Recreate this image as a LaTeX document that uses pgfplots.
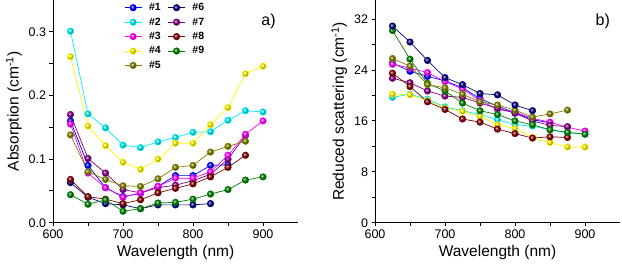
\documentclass[border=0pt]{standalone}
\usepackage{pgfplots}
\pgfplotsset{compat=1.18}
\usepackage{fontspec}
\setmainfont{Liberation Sans}
\definecolor{c1}{RGB}{0,0,255}
\definecolor{c2}{RGB}{0,240,250}
\definecolor{c3}{RGB}{255,0,255}
\definecolor{c4}{RGB}{255,245,0}
\definecolor{c5}{RGB}{128,128,0}
\definecolor{c6}{RGB}{0,0,128}
\definecolor{c7}{RGB}{128,0,128}
\definecolor{c8}{RGB}{128,0,0}
\definecolor{c9}{RGB}{0,128,0}
\pgfplotsset{
  myaxis/.style={
    scale only axis, width=245pt, height=222.7pt,
    axis x line*=bottom, axis y line*=left,
    axis line style={line width=0.9pt, black},
    tick align=outside, tick style={line width=0.9pt, black},
    major tick length=3.5pt, minor tick length=3.5pt,
    minor x tick num=1, minor y tick num=1,
    xmin=600, xmax=950, xtick={600,700,800,900},
    ymin=0,
    /pgf/number format/assume math mode=true,
    tick label style={font=\fontsize{12.5}{14}\selectfont},
    label style={font=\fontsize{15.5}{18}\selectfont},
    xlabel={Wavelength (nm)},
    clip=false,
    every axis plot/.append style={line width=0.7pt, mark size=3.2pt},
  },
  s1/.style={color=c1, mark=ball, mark options={ball color=c1}},
  s2/.style={color=c2, mark=ball, mark options={ball color=c2}},
  s3/.style={color=c3, mark=ball, mark options={ball color=c3}},
  s4/.style={color=c4, mark=ball, mark options={ball color=c4}},
  s5/.style={color=c5, mark=ball, mark options={ball color=c5}},
  s6/.style={color=c6, mark=ball, mark options={ball color=c6}},
  s7/.style={color=c7, mark=ball, mark options={ball color=c7}},
  s8/.style={color=c8, mark=ball, mark options={ball color=c8}},
  s9/.style={color=c9, mark=ball, mark options={ball color=c9}},
}
\begin{document}
\begin{tikzpicture}
\useasboundingbox (-53pt,-51.3pt) rectangle (569pt,222.7pt);
% ---------- a) absorption ----------
\begin{axis}[myaxis, at={(0pt,0pt)}, anchor=south west,
  ymax=0.35, ytick={0,0.1,0.2,0.3},
  yticklabel style={/pgf/number format/fixed, /pgf/number format/fixed zerofill, /pgf/number format/precision=1},
  ylabel={Absorption (cm\textsuperscript{-1})},
  legend columns=2,
  legend style={at={(0.29,0.995)}, anchor=north west, draw=none, fill=none,
    font=\fontsize{10.5}{11}\selectfont\bfseries, row sep=1.6pt, column sep=5pt,
    inner sep=0pt},
]
\addplot[s1] coordinates {(625,0.160)(650,0.090)(675,0.055)(700,0.041)(725,0.046)(750,0.057)(775,0.074)(800,0.074)(825,0.090)(850,0.091)};
\addlegendentry{\#1}
\addplot[s6] coordinates {(625,0.063)(650,0.040)(675,0.030)(700,0.028)(725,0.022)(750,0.028)(775,0.028)(800,0.028)(825,0.030)};
\addlegendentry{\#6}
\addplot[s2] coordinates {(625,0.301)(650,0.171)(675,0.149)(700,0.122)(725,0.118)(750,0.127)(775,0.134)(800,0.142)(825,0.143)(850,0.161)(875,0.176)(900,0.174)};
\addlegendentry{\#2}
\addplot[s7] coordinates {(625,0.170)(650,0.101)(675,0.078)(700,0.052)(725,0.047)(750,0.055)(775,0.059)(800,0.066)(825,0.076)(850,0.100)(875,0.137)};
\addlegendentry{\#7}
\addplot[s3] coordinates {(625,0.155)(650,0.078)(675,0.055)(700,0.040)(725,0.047)(750,0.057)(775,0.070)(800,0.070)(825,0.080)(850,0.106)(875,0.139)(900,0.160)};
\addlegendentry{\#3}
\addplot[s8] coordinates {(625,0.068)(650,0.041)(675,0.037)(700,0.030)(725,0.036)(750,0.047)(775,0.054)(800,0.061)(825,0.072)(850,0.087)(875,0.106)};
\addlegendentry{\#8}
\addplot[s4] coordinates {(625,0.261)(650,0.152)(675,0.121)(700,0.095)(725,0.084)(750,0.100)(775,0.125)(800,0.125)(825,0.154)(850,0.181)(875,0.234)(900,0.246)};
\addlegendentry{\#4}
\addplot[s9] coordinates {(625,0.044)(650,0.029)(675,0.036)(700,0.018)(725,0.022)(750,0.031)(775,0.032)(800,0.037)(825,0.045)(850,0.052)(875,0.067)(900,0.072)};
\addlegendentry{\#9}
\addplot[s5] coordinates {(625,0.138)(650,0.080)(675,0.068)(700,0.058)(725,0.057)(750,0.069)(775,0.087)(800,0.090)(825,0.111)(850,0.120)(875,0.128)};
\addlegendentry{\#5}
\node[font=\fontsize{16}{18}\selectfont, anchor=center] at (rel axis cs:0.88,0.905) {a)};
\end{axis}
% ---------- b) reduced scattering ----------
\begin{axis}[myaxis, at={(322pt,0pt)}, anchor=south west,
  ymax=35, ytick={0,8,16,24,32},
  ylabel={Reduced scattering (cm\textsuperscript{-1})},
]
\addplot[s1] coordinates {(625,25.1)(650,23.8)(675,23.0)(700,22.3)(725,21.2)(750,19.5)(775,18.3)(800,17.3)(825,16.2)(850,15.7)};
\addplot[s2] coordinates {(625,19.7)(650,20.2)(675,19.4)(700,18.2)(725,17.6)(750,17.0)(775,16.2)(800,15.4)(825,15.2)(850,14.6)(875,14.1)(900,14.0)};
\addplot[s3] coordinates {(625,24.9)(650,24.3)(675,23.6)(700,22.2)(725,21.0)(750,19.2)(775,17.8)(800,17.4)(825,16.4)(850,15.8)(875,15.0)(900,14.4)};
\addplot[s4] coordinates {(625,20.2)(650,20.1)(675,19.2)(700,18.0)(725,17.5)(750,16.7)(775,15.4)(800,14.8)(825,13.4)(850,12.6)(875,11.9)(900,11.9)};
\addplot[s7] coordinates {(625,22.7)(650,22.0)(675,20.7)(700,19.9)(725,19.7)(750,18.8)(775,18.0)(800,17.2)(825,16.0)(850,15.3)(875,15.1)};
\addplot[s8] coordinates {(625,23.5)(650,21.4)(675,19.0)(700,17.8)(725,16.3)(750,15.8)(775,14.7)(800,14.0)(825,13.3)(850,13.5)(875,13.4)};
\addplot[s9] coordinates {(625,30.2)(650,25.7)(675,21.9)(700,20.7)(725,18.8)(750,17.6)(775,17.0)(800,16.0)(825,15.4)(850,14.6)(875,14.2)(900,13.9)};
\addplot[s5] coordinates {(625,25.8)(650,24.6)(675,21.7)(700,21.2)(725,20.2)(750,19.0)(775,18.5)(800,17.7)(825,16.6)(850,17.1)(875,17.7)};
\addplot[s6] coordinates {(625,30.9)(650,28.4)(675,25.5)(700,22.8)(725,21.7)(750,20.3)(775,20.1)(800,18.5)(825,17.6)};
\node[font=\fontsize{16}{18}\selectfont, anchor=center] at (rel axis cs:0.93,0.905) {b)};
\end{axis}
\end{tikzpicture}
\end{document}
